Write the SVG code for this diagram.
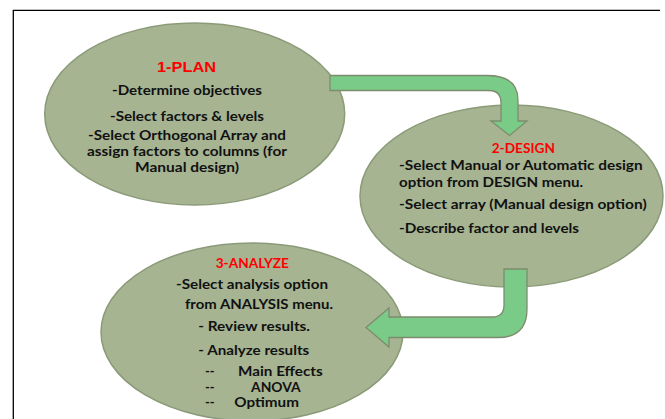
<svg xmlns="http://www.w3.org/2000/svg" width="665" height="419" viewBox="0 0 665 419">
  <style>
    .node ellipse { fill: #A6B492; stroke: #8B9A78; stroke-width: 1.5; }
    .arrow { fill: #7ACB87; stroke: #7D8C6E; stroke-width: 1.3; stroke-linejoin: miter; }
    .t { font-family: Lato, "Open Sans", "Liberation Sans", sans-serif; font-weight: bold; font-size: 13px; fill: #111111; }
    .title { font-family: Lato, "Liberation Sans", sans-serif; font-weight: bold; font-size: 13px; fill: #FF0000; }
    .title1 { font-family: "Liberation Sans", Arial, sans-serif; font-weight: bold; font-size: 15.5px; fill: #FF0000; }
    .frame { stroke: #000000; stroke-width: 1.3; fill: none; }
  </style>
  <rect width="665" height="419" fill="#FFFFFF"/>
  <path class="frame" d="M13.3,419 V10.3 H660"/>

  <g id="node-plan" class="node">
    <ellipse cx="194.7" cy="114" rx="150" ry="91"/>
    <text class="title1" x="157" y="71.5" textLength="59" lengthAdjust="spacingAndGlyphs">1-PLAN</text>
    <text class="t" x="112" y="95" textLength="150" lengthAdjust="spacingAndGlyphs">-Determine objectives</text>
    <text class="t" x="110" y="120.5" textLength="154" lengthAdjust="spacingAndGlyphs">-Select factors &amp; levels</text>
    <text class="t" x="88" y="139.5" textLength="198" lengthAdjust="spacingAndGlyphs">-Select Orthogonal Array and</text>
    <text class="t" x="87" y="155.5" textLength="200" lengthAdjust="spacingAndGlyphs">assign factors to columns (for</text>
    <text class="t" x="135" y="172" textLength="104" lengthAdjust="spacingAndGlyphs">Manual design)</text>
  </g>

  <g id="node-design" class="node">
    <ellipse cx="511.5" cy="196" rx="151.5" ry="91"/>
    <text class="title" x="491.7" y="153.3" textLength="63.3" lengthAdjust="spacingAndGlyphs">2-DESIGN</text>
    <text class="t" x="399" y="170" textLength="243.7" lengthAdjust="spacingAndGlyphs">-Select Manual or Automatic design</text>
    <text class="t" x="399" y="186.7" textLength="184" lengthAdjust="spacingAndGlyphs">option from DESIGN menu.</text>
    <text class="t" x="399" y="209" textLength="247.7" lengthAdjust="spacingAndGlyphs">-Select array (Manual design option)</text>
    <text class="t" x="399" y="232.7" textLength="180" lengthAdjust="spacingAndGlyphs">-Describe factor and levels</text>
  </g>

  <g id="node-analyze" class="node">
    <ellipse cx="252" cy="332" rx="151" ry="89"/>
    <text class="title" x="215.7" y="267.7" textLength="73.3" lengthAdjust="spacingAndGlyphs">3-ANALYZE</text>
    <text class="t" x="176" y="289.3" textLength="152" lengthAdjust="spacingAndGlyphs">-Select analysis option</text>
    <text class="t" x="185" y="308.7" textLength="148" lengthAdjust="spacingAndGlyphs">from ANALYSIS menu.</text>
    <text class="t" x="198.3" y="330.7" textLength="111.7" lengthAdjust="spacingAndGlyphs">- Review results.</text>
    <text class="t" x="198.3" y="355.3" textLength="111" lengthAdjust="spacingAndGlyphs">- Analyze results</text>
    <text class="t" y="375.7"><tspan x="205">--</tspan><tspan x="238" textLength="84.7" lengthAdjust="spacingAndGlyphs">Main Effects</tspan></text>
    <text class="t" y="391.7"><tspan x="205">--</tspan><tspan x="251" textLength="49.7" lengthAdjust="spacingAndGlyphs">ANOVA</tspan></text>
    <text class="t" y="407"><tspan x="205">--</tspan><tspan x="234.3" textLength="64.7" lengthAdjust="spacingAndGlyphs">Optimum</tspan></text>
  </g>

  <g id="connectors">
    <path id="plan-to-design" class="arrow" d="M330,75.5 H487 Q518,75.5 518,100 V121 H527 L509.5,135.5 L491,121 H501 V103 Q501,90.5 489,90.5 H330 Z"/>
    <path id="design-to-analyze" class="arrow" d="M504,269 H527 V309 Q527,337.5 498,337.5 H389 V347 L366,327.5 L389,308 V317 H492 Q504,317 504,305 Z"/>
  </g>
</svg>
